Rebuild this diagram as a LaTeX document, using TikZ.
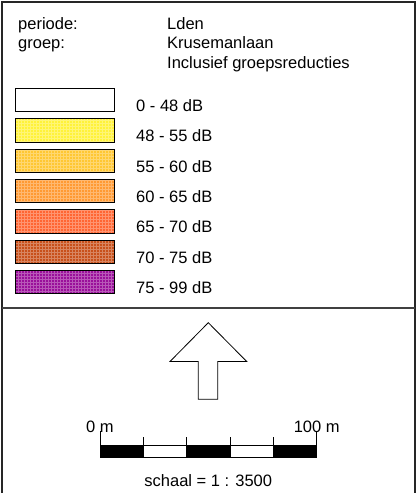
\documentclass[tikz,border=0pt]{standalone}
\usepackage{fontspec}
\setmainfont{Liberation Sans}
\definecolor{lgwit}{HTML}{FFFFFF}
\definecolor{lggeel}{HTML}{FFF23A}
\definecolor{lgoranjelicht}{HTML}{FFC733}
\definecolor{lgoranje}{HTML}{FF9A33}
\definecolor{lgrood}{HTML}{FF6633}
\definecolor{lgbruin}{HTML}{C8501A}
\definecolor{lgpaars}{HTML}{9A109A}

\begin{document}
\begin{tikzpicture}[x=1pt,y=-1pt,
    txt/.style={anchor=base west,inner sep=0pt,font=\fontsize{16.5}{19}\selectfont},
    ctxt/.style={anchor=base,inner sep=0pt,font=\fontsize{16.5}{19}\selectfont},
    legbox/.style={draw=black,line width=0.9pt}]
  \useasboundingbox (0,0) rectangle (417,493);
  \begin{scope}
    \clip (0,0) rectangle (417,493);
    \draw[line width=2pt,black!85] (2,1.5) rectangle (415,497);
  \end{scope}
  \draw[line width=1.5pt,black!75] (2,308) -- (415,308);

  % header
  \node[txt] (periode) at (18,29.5) {periode:};
  \node[txt] (groep) at (18,48.8) {groep:};
  \node[txt] (lden) at (167,29.5) {Lden};
  \node[txt] (kruseman) at (167,48.8) {Krusemanlaan};
  \node[txt] (inclusief) at (167,68) {Inclusief groepsreducties};

  % legenda
  \foreach \c/\t [count=\i from 0] in {lgwit/0 - 48 dB, lggeel/48 - 55 dB,
      lgoranjelicht/55 - 60 dB, lgoranje/60 - 65 dB, lgrood/65 - 70 dB,
      lgbruin/70 - 75 dB, lgpaars/75 - 99 dB} {
    \pgfmathsetmacro\ytop{88.3+30.35*\i}
    \fill[\c] (15,\ytop) rectangle +(99,23.4);
    \draw[white,opacity=0.3,line width=0.4pt,step=3pt] (15,\ytop) grid +(99,23.4);
    \draw[legbox] (15,\ytop) rectangle +(99,23.4);
    \node[txt] (leg\i) at (136,\ytop+23) {\t};
  }

  % noordpijl
  \draw[line width=0.8pt] (208.3,322.7) -- (246.7,361.5) -- (217.7,361.5)
    -- (217.7,399.3) -- (198.3,399.3) -- (198.3,361.5) -- (170,361.5) -- cycle;

  % schaalbalk
  \foreach \k in {0,...,4} {
    \pgfmathsetmacro\xa{100+43.33*\k}
    \pgfmathparse{mod(\k,2)==0 ? "black" : "white"}
    \edef\vulling{\pgfmathresult}
    \draw[fill=\vulling,line width=0.8pt] (\xa,445.7) rectangle +(43.33,12);
  }
  \foreach \k in {1,...,4} {
    \draw[line width=0.8pt] (100+43.33*\k,437.3) -- (100+43.33*\k,445.7);
  }
  \draw[line width=0.8pt] (100,431) -- (100,445.7);
  \draw[line width=0.8pt] (316.65,431) -- (316.65,445.7);
  \node[ctxt] (nul) at (100,432) {0 m};
  \node[ctxt] (honderd) at (316.7,432) {100 m};
  \node[ctxt] (schaal) at (208.3,486) {schaal = 1 : 3500};
\end{tikzpicture}
\end{document}
